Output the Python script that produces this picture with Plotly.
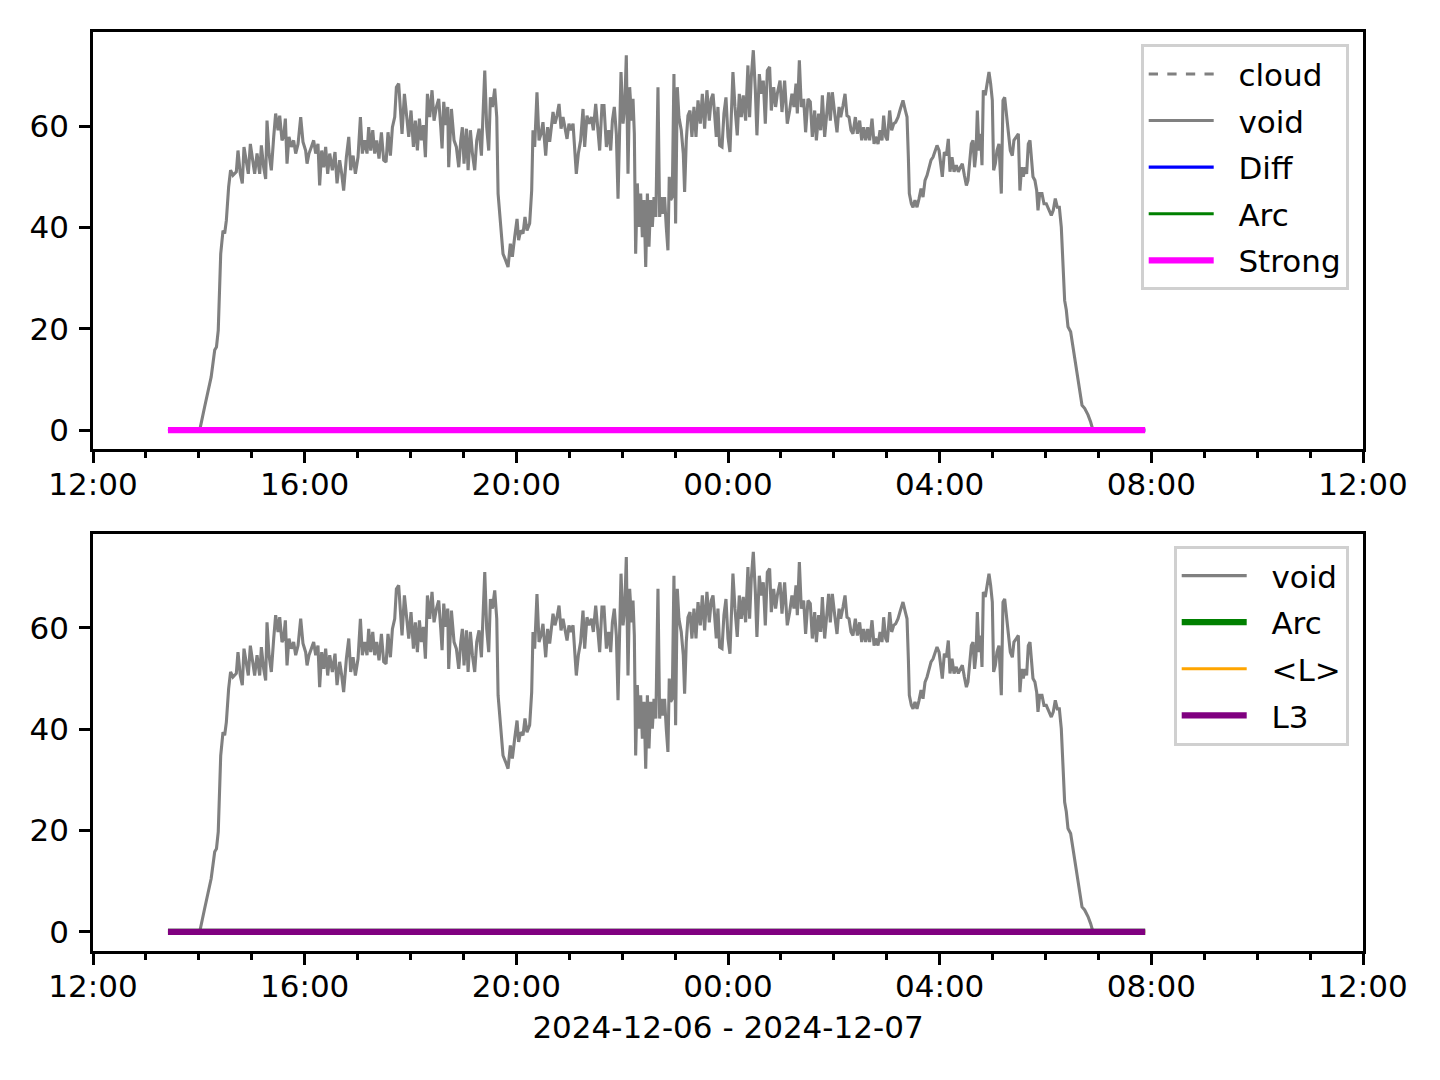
import pandas as pd
import plotly.graph_objects as go
from plotly.subplots import make_subplots

# ---------------- data ----------------
DAY_START = "2024-12-06 12:00"
DAY_END = "2024-12-07 12:00"

# elapsed minutes after 2024-12-06 12:00 for the "void" series
minutes_after_noon = [
    85, 121, 126.6, 130.4, 134, 138, 140, 142, 143.6, 144.8, 147.4, 149.3, 151.2, 153.8, 156,
    158.7, 162.5, 164.4, 167, 169.3, 171.2, 173.9, 176.1, 178.4, 180.7, 183.3, 186, 189, 190.9,
    193.5, 195.8, 197.3, 199.6, 202.2, 204.9, 207.1, 209.8, 211.7, 214.3, 216.2, 218.1, 220,
    222.2, 224.9, 227.5, 229.8, 232.5, 235.5, 238.1, 241.1, 242.7, 244.9, 247.6, 250.2, 252.5,
    255.1, 257, 259.3, 261.6, 263.8, 266.1, 268.4, 271.4, 274.4, 276.7, 279.7, 282, 284.2,
    287.3, 290, 292.2, 294.9, 297.5, 300.5, 303.2, 305.4, 308.1, 310.7, 312.6, 314.9, 317.2,
    319.4, 321.7, 324.3, 327, 329.6, 332.3, 334.5, 337.2, 339.5, 342.1, 344, 346.6, 348.9,
    350.4, 353.1, 355.3, 358, 360.6, 363.3, 365.5, 367.8, 370.1, 372.3, 374.6, 376.9, 379.2,
    381.8, 384.4, 386.7, 389.4, 392, 394.3, 395.8, 397.7, 400, 402.2, 403.3, 406.4, 409.4, 412,
    414.7, 417, 418.8, 420.7, 423.4, 425.3, 427.9, 430.2, 432.8, 435.1, 437.7, 440.4, 441.9,
    444.2, 446.4, 448.7, 450.6, 452.9, 455.5, 457.8, 459.3, 461.9,
    463, 464.9, 467.9, 470.6, 473.2, 475.5, 478.1, 480.8, 482.6, 484.9, 487.6, 489.8, 492.1,
    495.1, 497.4, 498.9, 500.8, 503.4, 505.7, 508, 510.2, 511.8, 513.3, 515.5, 517.8, 519.7,
    521.6, 523.8, 526.1, 528.4, 530.7, 532.9, 535.2, 537.5, 539.7, 541.6, 544.3, 546.5, 548,
    550.3, 552.9, 555.6, 557.5, 560.1, 562.4, 565.1, 567.3, 570, 572.6, 574.5, 577.1, 579.4,
    582.1, 584.7, 587, 588.9, 591.1, 593.4, 595.3, 597.2, 598.7, 601, 602.9, 604.7, 606.6,
    608.5, 610.8, 612.3, 613.8, 615.3, 617.2, 619.1, 621, 622.9, 624.8, 626.7, 628.6, 630.4,
    632.3, 634.2, 636.1,
    638.2, 640.6, 642.5, 644.4, 646.3, 648.1, 650, 651.9, 653.4, 655, 656.8, 658.7, 660.6,
    662.5, 664.4, 667, 669.3, 670.8, 672.7, 674.6, 676.9, 679.1, 681.4, 683.7, 686, 688.6,
    690.9, 693.5, 696.1, 698.8, 701, 703, 704.8, 706.7, 708.6, 710.5, 713.2, 715.4, 717.7, 720,
    722.2, 725.6, 727.9, 730.5, 732.8, 735.1, 737.3, 740, 742.6, 744.5, 746.4, 748.7, 751,
    752.8, 755.5, 757.8, 760, 762.3, 764.6, 767.2, 769.1, 771.8, 774, 775.9, 779, 781.2, 784.2,
    787.2, 789.9, 792.5, 794.8, 797.1, 798.6, 800.9, 803.1, 805.8, 808, 810.7, 813.3,
    815.6, 818.3, 820.2, 822.8, 825.1, 827, 829.6, 832.3, 834.1, 836, 838.3, 841, 843.6, 845.9,
    847.8, 850.4, 852.7, 854.9, 857.2, 859.5, 861.7, 864.4, 866.7, 869.3, 871.6, 873.8, 876.1,
    878.4, 880.6, 883.3, 885.6, 887.4, 890.1, 892.4, 894.6, 896.5, 898.8, 900.7, 903.3, 905.6,
    907.9, 910.1, 912.8, 915.4, 918.4, 921.1, 923, 924.5, 925.6, 927.9, 929.8, 932, 934.3,
    936.6, 938.9, 941.1, 943.4, 945.7, 947.9, 950.2, 952.5, 954.7, 957, 959.3, 961.2, 963,
    965.3, 967.6, 969.8, 971.7, 974, 976.3, 978.9, 981.2, 983.5, 985.7, 988, 990.3,
    992.1, 994, 995.9, 997.8, 999.6, 1001.2, 1002.7, 1004.6, 1006.4, 1008, 1009.5, 1011.7,
    1014, 1015.9, 1017.8, 1019.7, 1021.2, 1023.1, 1025, 1027.2, 1029.9, 1031.8, 1033.7,
    1035.9, 1038.2, 1040.1, 1042.4, 1044.2, 1046.9, 1049.2, 1051, 1052.9, 1054.8, 1056.7,
    1058.6, 1060.5, 1062.4, 1063.9, 1065.8, 1068, 1070, 1071.5, 1073.4, 1076, 1078.3, 1080.9,
    1083.6, 1086.6, 1088.8, 1091.1, 1093.4, 1095.7, 1097.9, 1099.8, 1101.7, 1103.6, 1105.5,
    1108.5, 1111.2, 1113.8, 1116.8, 1119.8, 1121.4, 1124.4, 1128.2, 1131.2, 1133.8, 1193,
]

void_values = [
    0, 0, 4.6, 7.9, 10.5, 15.8, 16.4, 19.7, 32.2, 34.8, 39.4, 38.8, 41.4, 48, 51.3,
    50.3, 51, 55.2, 50.6, 48.7, 55.9, 53.3, 50.6, 56.5, 53.9, 50.6, 54.6, 50.6, 56.2,
    51.9, 49.6, 61.1, 54.6, 51.3, 57.9, 62.5, 59.2, 62.1, 57.2, 57.9, 61.5, 52.6,
    57.9, 55.9, 57.2, 54.6, 56.5, 61.8, 56.9, 55.2, 52.6, 54.6, 55.9, 57.2, 54.6,
    56.5, 48.3, 55.2, 51.9, 55.9, 50.6, 54.6, 51.3, 54.9, 48.7, 53.3, 50.6, 47.3,
    53.9, 57.9, 51.3, 54.2, 50.6, 53.9, 61.8, 54.6, 57.2, 54.6, 59.8, 55.2, 59.2,
    54.6, 57.2, 53.6, 58.8, 53.3, 52.9, 58.8, 54.2, 59.8, 61.8, 67.7, 68.4, 63.1,
    58.5, 66.4, 62.5, 57.9, 63.1, 55.9, 61.1, 55.2, 61.5, 57.2, 60.2, 53.9, 66.4,
    61.8, 67.1, 61.1, 63.8, 65.4, 59.8, 55.6, 64.8, 60.2, 63.8, 51.9, 63.4, 57.2, 55.9,
    51.9, 57.2, 59.8, 52.6, 59.5, 51.3, 59.2, 54.6, 51.3, 57.2, 59.5, 54.2, 61.8,
    71, 59.8, 55.2, 65.7, 63.8, 67.4, 61.8, 46.7, 41.4,
    37.5, 34.8, 33.5, 32.2, 36.8, 34.2, 38.1, 41.7, 37.5, 39.4, 38.8, 42.1, 39.4,
    40.8, 47.3, 59.2, 55.9, 66.7, 57.2, 58.5, 60.8, 57.9, 54.2, 59.8, 56.9, 59.8,
    62.8, 60.5, 62.1, 64.4, 59.5, 61.8, 59.8, 57.5, 60.5, 59.2, 60.5, 54.6, 50.6,
    54.6, 57.2, 63.4, 55.9, 62.1, 60.5, 61.8, 59.2, 64.4, 58.5, 55.2, 64.1, 64.1,
    55.9, 59.2, 55.2, 61.1, 63.8, 58.5, 45.7, 57.2, 70.7, 60.5, 63.8, 74, 50.6,
    67.7, 61.1, 65.4, 58.5, 34.8, 48.7, 40.1, 46.7, 38.1, 45.4, 32.2, 46.7, 36.2,
    45.4, 40.1, 46,
    42.1, 67.7, 42.1, 46, 42.7, 46, 40.1, 35.5, 50, 45.4, 46, 70.3, 40.8,
    67.7, 61.8, 59.2, 54.6, 47, 57.2, 62.1, 63.1, 57.9, 63.8, 57.9, 65.1, 60.5,
    66.4, 59.5, 67.1, 61.1, 65.4, 66.4, 62.5, 57.9, 63.8, 56.2, 55.9, 62.5, 65.7, 57.9,
    54.9, 70.7, 63.8, 58.2, 66.4, 61.8, 66.1, 61.1, 72, 61.8, 69.7, 75, 67.1,
    58.2, 70.3, 66.4, 69, 60.5, 71, 71.7, 63.1, 67.7, 63.8, 66.4, 69, 62.8, 69,
    60.5, 63.1, 66.4, 63.8, 68.4, 62.5, 73, 63.8, 65.4, 58.8, 65.4, 64.8,
    57.9, 63.1, 57.2, 62.5, 59.2, 66.1, 57.9, 63.1, 66.7, 61.1, 66.7, 62.5, 58.8, 63.8,
    61.8, 64.1, 66.4, 62.1, 61.8, 59.2, 58.5, 61.8, 58.5, 61.1, 57.2, 59.8, 57.2,
    59.8, 57.2, 61.5, 56.5, 57.9, 56.5, 59.2, 57.2, 62.1, 57.9, 57.2, 63.1, 59.2,
    60.5, 60.8, 61.8, 63.4, 65.1, 63.1, 61.8, 53.9, 46.7, 44.7, 44, 45.4, 44,
    45.7, 47.7, 46, 49.3, 50.3, 51.6, 53.3, 53.9, 55.2, 56.2, 55.2, 52.6, 50,
    54.9, 54.2, 57.5, 51, 53.9, 51, 52.3, 51, 51.9, 52.6, 50.3, 48.3,
    49.3, 52.6, 56.5, 57.2, 51.9, 54.6, 63.1, 55.2, 58.5, 52.3, 67.1, 66.1,
    69, 70.7, 68.4, 65.1, 51.3, 52.6, 55.2, 56.5, 46.7, 65.1, 65.7,
    62.5, 57.9, 55.2, 54.2, 57.2, 57.9, 58.5, 47.3, 51.9, 50, 51.9,
    50.6, 56.5, 57.2, 54.6, 50, 49.3, 47.3, 43.4, 46.7, 46.7, 44.7, 44.7,
    43.4, 42.4, 43.4, 45.7, 44, 44, 40.1, 34.2, 25.6, 23.7, 20.4,
    19.4, 16.4, 13.1, 9.9, 7.2, 4.9, 4.3, 3, 1.6, 0, 0,
]

# flat-zero series (Diff, Arc, Strong, <L>, L3): first and last sample
zero_minutes = [85, 1193]
zero_values = [0, 0]

y_ticks = [0, 20, 40, 60]
date_label = "2024-12-06 - 2024-12-07"

# ---------------- build figure ----------------
t0 = pd.Timestamp(DAY_START)
t_void = t0 + pd.to_timedelta(minutes_after_noon, unit="min")
t_zero = t0 + pd.to_timedelta(zero_minutes, unit="min")

FONT = "DejaVu Sans"
FS = 31
LW1 = 3.1
LW2 = 6.25
PAD = "\u00a0\u00a0"  # gap between legend handle and label


def add_line(x, y, name, color, width, row, legend, dash="solid"):
    fig.add_trace(
        go.Scatter(x=x, y=y, mode="lines", name=PAD + name,
                   line=dict(color=color, width=width, dash=dash),
                   legend=legend, legendgroup=legend + name),
        row=row, col=1,
    )


fig = make_subplots(rows=2, cols=1)

# --- top panel ---
add_line([None], [None], "cloud", "gray", LW1, 1, "legend", dash="dash")
add_line(t_void, void_values, "void", "gray", LW1, 1, "legend")
add_line(t_zero, zero_values, "Diff", "blue", LW1, 1, "legend")
add_line(t_zero, zero_values, "Arc", "green", LW1, 1, "legend")
add_line(t_zero, zero_values, "Strong", "magenta", LW2, 1, "legend")

# --- bottom panel ---
add_line(t_void, void_values, "void", "gray", LW1, 2, "legend2")
add_line(t_zero, zero_values, "Arc", "green", LW2, 2, "legend2")
add_line(t_zero, zero_values, "<L>", "orange", LW1, 2, "legend2")
add_line(t_zero, zero_values, "L3", "purple", LW2, 2, "legend2")

axis_common = dict(
    showline=True, linecolor="black", linewidth=2.5, mirror=True,
    ticks="outside", ticklen=11, tickwidth=2.5, tickcolor="black",
    showgrid=False, zeroline=False,
    tickfont=dict(family=FONT, size=FS, color="black"),
)

x_common = dict(
    axis_common, type="date", range=[DAY_START, DAY_END],
    tick0=DAY_START, dtick=4 * 3600 * 1000, tickformat="%H:%M",
    ticklabelstandoff=-5,
    minor=dict(dtick=3600 * 1000, ticks="outside", ticklen=6.25, tickwidth=2.5,
               tickcolor="black", showgrid=False),
)
y_common = dict(axis_common, range=[-3.8, 78.6], tickmode="array", tickvals=y_ticks,
                ticklabelstandoff=4)

# page body has an 8px default margin, compensate so the figure lands at (0,0)
BODY = 8
W, H = 1440 - BODY, 1080 - BODY
M_L, M_R, M_T, M_B = 93.3 - BODY, 76.7, 31.7 - BODY, 128.7
H_PLOT = H - M_T - M_B
AX_H = 417.6
top_dom = [(H_PLOT - AX_H) / H_PLOT, 1]
bot_dom = [0, AX_H / H_PLOT]

fig.update_layout(
    xaxis=dict(x_common, domain=[0, 1], anchor="y"),
    yaxis=dict(y_common, domain=top_dom, anchor="x"),
    xaxis2=dict(x_common, domain=[0, 1], anchor="y2",
                title=dict(text=date_label, font=dict(family=FONT, size=FS, color="black"),
                           standoff=14)),
    yaxis2=dict(y_common, domain=bot_dom, anchor="x2"),
)

legend_common = dict(
    xanchor="right", yanchor="top", x=(1349 - 93.3) / 1270,
    font=dict(family=FONT, size=FS, color="black"),
    bgcolor="rgba(255,255,255,0.8)", bordercolor="#d0d0d0", borderwidth=3,
    itemwidth=65, tracegroupgap=3.3,
)

fig.update_layout(
    width=W, height=H,
    margin=dict(l=M_L, r=M_R, t=M_T, b=M_B),
    paper_bgcolor="white", plot_bgcolor="white",
    font=dict(family=FONT, size=FS, color="black"),
    legend=dict(legend_common, y=(951.3 - 44) / H_PLOT),
    legend2=dict(legend_common, y=(951.3 - 546) / H_PLOT),
    showlegend=True,
)

fig.write_html("out.html")
